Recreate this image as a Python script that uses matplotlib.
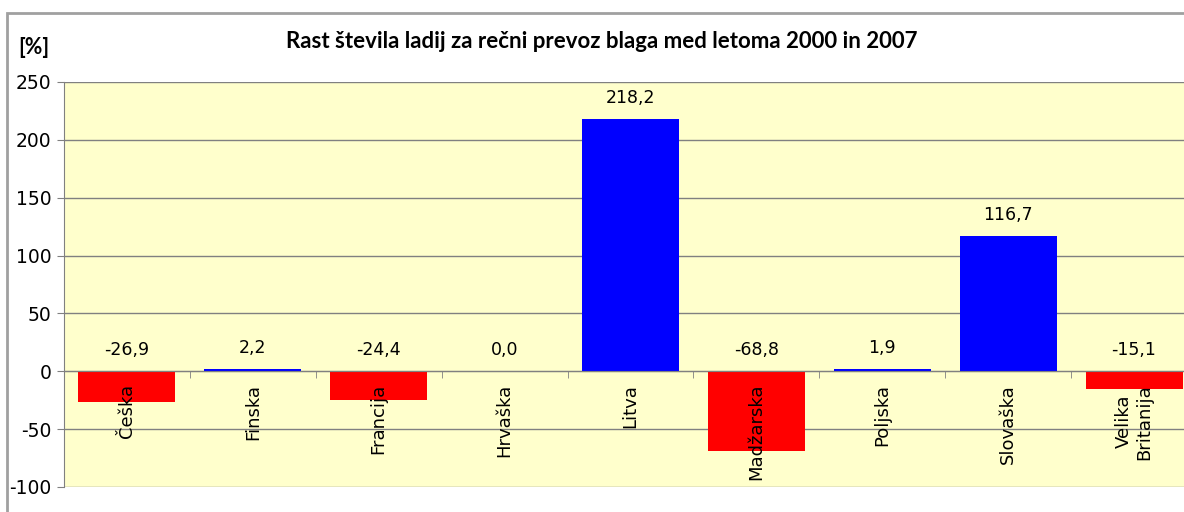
import numpy as np
import matplotlib
matplotlib.use("Agg")
import matplotlib.pyplot as plt
from matplotlib.patches import Rectangle

# data
drzave = ["Češka", "Finska", "Francija", "Hrvaška", "Litva", "Madžarska",
          "Poljska", "Slovaška", "Velika\nBritanija"]
rast = [-26.9, 2.2, -24.4, 0.0, 218.2, -68.8, 1.9, 116.7, -15.1]
yticks = [-100, -50, 0, 50, 100, 150, 200, 250]

W, H = 1184, 512
fig = plt.figure(figsize=(W / 100, H / 100), dpi=100)

# outer chart frame (cut off at right / bottom like the original)
fig.patches.append(Rectangle((7 / W, -0.2), 1.5, (H - 13) / H + 0.2,
                             transform=fig.transFigure, fill=False,
                             edgecolor="#a0a0a0", linewidth=2))

ax = fig.add_axes([64 / W, 25 / H, (1197 - 64) / W, (487 - 82) / H])
ax.set_facecolor("#ffffcc")

# grid behind the bars, axis (labels) in front
for t in yticks:
    ax.axhline(t, color="#808080", linewidth=1, zorder=0.5)

x = np.arange(len(drzave))
barve = ["#ff0000" if v < 0 else "#0000ff" for v in rast]
ax.bar(x, rast, width=0.77, color=barve, zorder=1)

for i, v in enumerate(rast):
    lab = f"{v:.1f}".replace(".", ",")
    ax.annotate(lab, (i, max(v, 0)), xytext=(0, 15), textcoords="offset points",
                ha="center", va="center", fontsize=12.5, family="DejaVu Sans")

ax.set_xlim(-0.5, len(drzave) - 0.5)
ax.set_ylim(-100, 250)
ax.set_yticks(yticks)
ax.set_yticklabels([str(t) for t in yticks], fontsize=13.5)
ax.set_axisbelow(False)

ax.spines["bottom"].set_position(("data", 0))
ax.spines["bottom"].set_color("#808080")
ax.spines["left"].set_color("#808080")
ax.spines["top"].set_visible(False)
ax.spines["right"].set_visible(False)

ax.set_xticks(x)
ax.set_xticklabels(drzave, rotation=90, va="top", ha="center",
                   multialignment="center", fontsize=13)
ax.set_xticks(np.arange(-0.5, len(drzave), 1), minor=True)
ax.tick_params(axis="x", which="major", length=0, pad=9)
ax.tick_params(axis="x", which="minor", length=5, color="#808080", direction="out")
ax.tick_params(axis="y", length=5, color="#808080", pad=4)

fig.text(602 / W, 1 - 42 / H,
         "Rast števila ladij za rečni prevoz blaga med letoma 2000 in 2007",
         ha="center", va="center", fontsize=16, fontweight="bold", family="Lato")
fig.text(34 / W, 1 - 47 / H, "[%]", ha="center", va="center",
         fontsize=15.5, fontweight="bold", family="Lato")

fig.savefig("out.png", dpi=100)
